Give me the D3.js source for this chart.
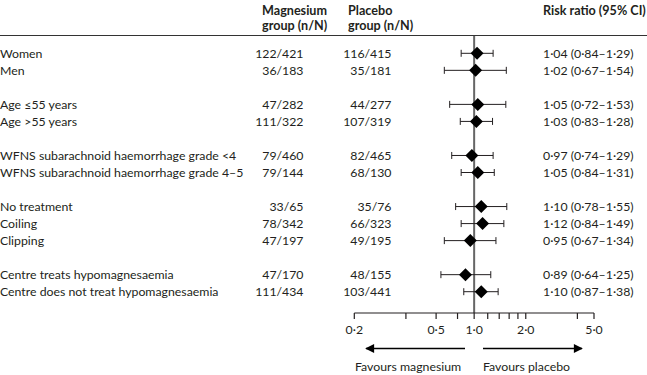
<!DOCTYPE html>
<html>
<head>
<meta charset="utf-8">
<script src="https://cdn.jsdelivr.net/npm/d3@7"></script>
<style>
  html, body { margin: 0; padding: 0; background: #fff; }
  svg { display: block; font-family: Lato, "Open Sans", sans-serif; }
</style>
</head>
<body>
<div id="chart"></div>
<script>
"use strict";

// subgroups, in display order; groupSizes says how many rows per block (blank row between blocks)
const subgroups = [
    "Women", "Men",
    "Age \u226455 years", "Age >55 years",
    "WFNS subarachnoid haemorrhage grade <4", "WFNS subarachnoid haemorrhage grade 4\u20135",
    "No treatment", "Coiling", "Clipping",
    "Centre treats hypomagnesaemia", "Centre does not treat hypomagnesaemia"
];
const groupSizes = [2, 2, 2, 3, 2];

const magnesium = ["122/421", "36/183", "47/282", "111/322", "79/460", "79/144", "33/65", "78/342", "47/197", "47/170", "111/434"];
const placebo = ["116/415", "35/181", "44/277", "107/319", "82/465", "68/130", "35/76", "66/323", "49/195", "48/155", "103/441"];

const riskRatio = [1.04, 1.02, 1.05, 1.03, 0.97, 1.05, 1.10, 1.12, 0.95, 0.89, 1.10];
const ciLow = [0.84, 0.67, 0.72, 0.83, 0.74, 0.84, 0.78, 0.84, 0.67, 0.64, 0.87];
const ciHigh = [1.29, 1.54, 1.53, 1.28, 1.29, 1.31, 1.55, 1.49, 1.34, 1.25, 1.38];

// axis ticks as drawn in the figure, and the labelled ones
const tickValues = [0.2, 0.4, 0.6, 0.8, 1.0, 1.2, 1.4, 1.6, 1.8, 2.0, 4.0, 5.0];
const labelValues = [0.2, 0.6, 1.0, 2.0, 5.0];
const labelTexts = ["0\u00b72", "0\u00b75", "1\u00b70", "2\u00b70", "5\u00b70"];

const width = 647, height = 375;
const ink = "#231f20";
const bodySize = 12.3;

const svg = d3.select("#chart").append("svg")
    .attr("width", width)
    .attr("height", height);

// row index for every subgroup, skipping one blank row between blocks
const rowIndex = [];
let r = 0;
groupSizes.forEach(n => {
    for (let i = 0; i < n; i++) rowIndex.push(r++);
    r++;
});

const y = d3.scaleLinear().domain([0, 14]).range([53.3, 291.7]);
const x = d3.scaleLog().domain([0.2, 5]).range([354.3, 594]);

const fmt = v => v.toFixed(2).replace(".", "\u00b7");

// header
const head = svg.append("g")
    .attr("font-weight", "bold")
    .attr("font-size", 12.6)
    .attr("fill", ink);
head.append("text").attr("x", 262).attr("y", 15).text("Magnesium");
head.append("text").attr("x", 262).attr("y", 30).text("group (n/N)");
head.append("text").attr("x", 348).attr("y", 15).text("Placebo");
head.append("text").attr("x", 348).attr("y", 30).text("group (n/N)");
head.append("text").attr("x", 543).attr("y", 15).text("Risk ratio (95% CI)");

svg.append("line")
    .attr("x1", 0).attr("x2", width)
    .attr("y1", 35.5).attr("y2", 35.5)
    .attr("stroke", "#333").attr("stroke-width", 1.2);

// reference line at 1
svg.append("line")
    .attr("x1", x(1)).attr("x2", x(1))
    .attr("y1", 36).attr("y2", 313)
    .attr("stroke", "#666").attr("stroke-width", 2);

// table rows
const rows = svg.append("g")
    .attr("font-size", bodySize)
    .attr("fill", ink)
    .selectAll("g")
    .data(subgroups.map((s, i) => ({
        label: s, mg: magnesium[i], pl: placebo[i],
        rr: riskRatio[i], lo: ciLow[i], hi: ciHigh[i], row: rowIndex[i]
    })))
    .join("g")
    .attr("transform", d => `translate(0,${y(d.row)})`);

rows.append("text").attr("x", 0).attr("dy", "0.35em").text(d => d.label);
rows.append("text").attr("x", 303.5).attr("dy", "0.35em").attr("text-anchor", "end").text(d => d.mg);
rows.append("text").attr("x", 391.5).attr("dy", "0.35em").attr("text-anchor", "end").text(d => d.pl);
rows.append("text").attr("x", 543).attr("dy", "0.35em")
    .text(d => `${fmt(d.rr)} (${fmt(d.lo)}\u2013${fmt(d.hi)})`);

// confidence intervals
rows.append("line")
    .attr("x1", d => x(d.lo)).attr("x2", d => x(d.hi))
    .attr("stroke", ink).attr("stroke-width", 1);
rows.append("line")
    .attr("x1", d => x(d.lo)).attr("x2", d => x(d.lo))
    .attr("y1", -3.5).attr("y2", 3.5)
    .attr("stroke", ink).attr("stroke-width", 1);
rows.append("line")
    .attr("x1", d => x(d.hi)).attr("x2", d => x(d.hi))
    .attr("y1", -3.5).attr("y2", 3.5)
    .attr("stroke", ink).attr("stroke-width", 1);
rows.append("path")
    .attr("d", d => {
        const cx = x(d.rr), s = 6.5;
        return `M${cx - s},0L${cx},${-s}L${cx + s},0L${cx},${s}Z`;
    })
    .attr("fill", "#000");

// bottom axis
const axisY = 313;
const axis = svg.append("g").attr("transform", `translate(0,${axisY})`);
axis.append("line")
    .attr("x1", x(0.2)).attr("x2", x(5))
    .attr("stroke", ink).attr("stroke-width", 1.2);
axis.selectAll("line.tick")
    .data(tickValues)
    .join("line")
    .attr("class", "tick")
    .attr("x1", d => x(d)).attr("x2", d => x(d))
    .attr("y1", 0).attr("y2", 6)
    .attr("stroke", ink).attr("stroke-width", 1.2);
axis.selectAll("text")
    .data(labelValues)
    .join("text")
    .attr("x", d => x(d))
    .attr("y", 21)
    .attr("text-anchor", "middle")
    .attr("font-size", bodySize)
    .attr("fill", ink)
    .text((d, i) => labelTexts[i]);

// favours arrows
const defs = svg.append("defs");
defs.append("marker")
    .attr("id", "arrow")
    .attr("viewBox", "0 0 10 10")
    .attr("refX", 9).attr("refY", 5)
    .attr("markerWidth", 10).attr("markerHeight", 9)
    .attr("markerUnits", "userSpaceOnUse")
    .attr("orient", "auto")
    .append("path")
    .attr("d", "M0,0L10,5L0,10Z")
    .attr("fill", "#000");

const arrowY = 348.5;
svg.append("line")
    .attr("x1", 465).attr("x2", 366)
    .attr("y1", arrowY).attr("y2", arrowY)
    .attr("stroke", "#000").attr("stroke-width", 1.5)
    .attr("marker-end", "url(#arrow)");
svg.append("line")
    .attr("x1", 483).attr("x2", 582)
    .attr("y1", arrowY).attr("y2", arrowY)
    .attr("stroke", "#000").attr("stroke-width", 1.5)
    .attr("marker-end", "url(#arrow)");

svg.append("text").attr("x", 355).attr("y", 371)
    .attr("font-size", bodySize).attr("fill", ink).text("Favours magnesium");
svg.append("text").attr("x", 483).attr("y", 371)
    .attr("font-size", bodySize).attr("fill", ink).text("Favours placebo");
</script>
</body>
</html>
